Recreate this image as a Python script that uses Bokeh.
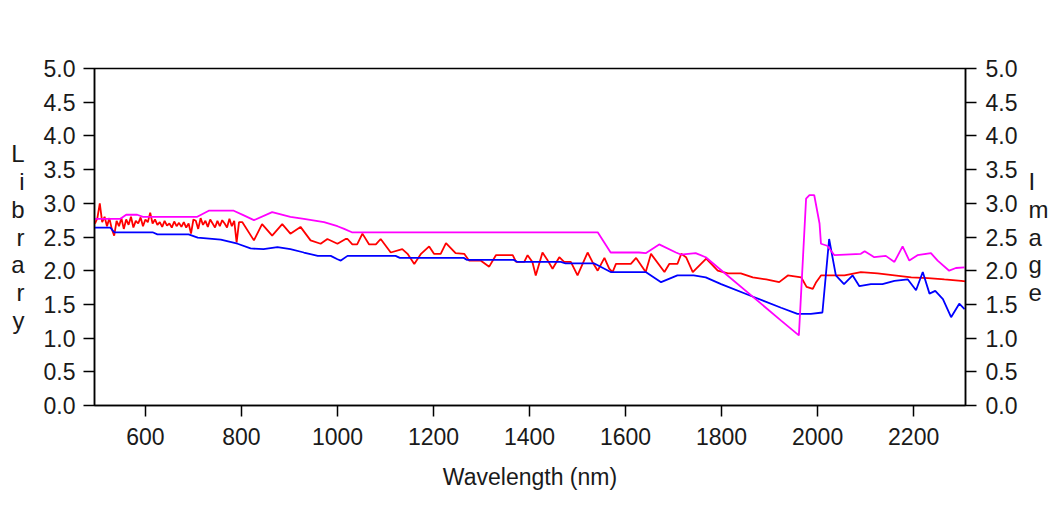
from bokeh.plotting import figure
from bokeh.models import Range1d, LinearAxis, FixedTicker, NumeralTickFormatter
from bokeh.embed import file_html
from bokeh.resources import INLINE

# ---- data ----
red_wl = [495, 500, 505, 510, 515, 520, 525, 530, 535, 540, 545, 550, 555, 560, 565,
          570, 575, 580, 585, 590, 595, 600, 605, 610, 615, 620, 625, 630, 635, 640,
          645, 650, 655, 660, 665, 670, 675, 680, 685, 690, 695, 700, 705, 710, 715,
          720, 725, 730, 735, 740, 745, 750, 755, 760, 765, 770, 775, 780, 785, 790,
          795, 802, 826, 843, 864, 885, 902, 923, 944, 965, 979, 1000, 1017, 1021,
          1031, 1041, 1052, 1066, 1080, 1090, 1111, 1135, 1146, 1160, 1174, 1191,
          1201, 1215, 1226, 1246, 1264, 1274, 1298, 1316, 1330, 1365, 1372, 1389,
          1396, 1406, 1413, 1427, 1438, 1448, 1462, 1472, 1486, 1500, 1521, 1531,
          1542, 1556, 1566, 1573, 1580, 1611, 1622, 1642, 1653, 1681, 1691, 1708,
          1716, 1726, 1740, 1768, 1792, 1813, 1840, 1865, 1893, 1920, 1938, 1966,
          1977, 1990, 1997, 2007, 2056, 2090, 2125, 2160, 2195, 2230, 2264, 2299, 2308]
red_val = [2.70, 2.78, 3.00, 2.72, 2.80, 2.66, 2.78, 2.62, 2.52, 2.74, 2.66, 2.78, 2.62,
           2.76, 2.68, 2.80, 2.64, 2.74, 2.70, 2.79, 2.66, 2.76, 2.72, 2.86, 2.70, 2.76,
           2.68, 2.72, 2.65, 2.74, 2.67, 2.70, 2.64, 2.73, 2.66, 2.71, 2.65, 2.72, 2.64,
           2.70, 2.55, 2.76, 2.74, 2.62, 2.78, 2.68, 2.74, 2.65, 2.76, 2.70, 2.64, 2.74,
           2.66, 2.75, 2.70, 2.64, 2.77, 2.66, 2.74, 2.42, 2.72, 2.72, 2.45, 2.69, 2.52,
           2.69, 2.55, 2.65, 2.45, 2.40, 2.47, 2.40, 2.47, 2.47, 2.39, 2.39, 2.55, 2.39,
           2.39, 2.47, 2.27, 2.32, 2.25, 2.10, 2.25, 2.36, 2.25, 2.25, 2.41, 2.26, 2.25,
           2.15, 2.15, 2.06, 2.23, 2.23, 2.13, 2.13, 2.23, 2.13, 1.93, 2.27, 2.15, 2.03,
           2.20, 2.13, 2.13, 1.93, 2.27, 2.13, 2.00, 2.19, 2.03, 1.98, 2.10, 2.10, 2.19,
           1.98, 2.25, 1.98, 2.10, 2.10, 2.25, 2.20, 1.98, 2.18, 2.00, 1.96, 1.96, 1.90,
           1.87, 1.83, 1.93, 1.90, 1.76, 1.73, 1.83, 1.93, 1.93, 1.98, 1.96, 1.93, 1.90,
           1.89, 1.87, 1.85, 1.84]

blue_wl = [494, 527, 535, 615, 625, 690, 709, 757, 792, 819, 846, 875, 902, 930, 959,
           986, 1000, 1007, 1021, 1121, 1130, 1263, 1270, 1367, 1375, 1465, 1475, 1534,
           1569, 1642, 1674, 1708, 1742, 1767, 1799, 1867, 1924, 1958, 1986, 2010, 2024,
           2038, 2055, 2073, 2087, 2111, 2135, 2160, 2188, 2205, 2219, 2233, 2245, 2261,
           2278, 2295, 2306]
blue_val = [2.64, 2.64, 2.57, 2.57, 2.54, 2.54, 2.49, 2.46, 2.40, 2.33, 2.32, 2.35, 2.32,
            2.27, 2.22, 2.22, 2.17, 2.15, 2.22, 2.22, 2.19, 2.19, 2.16, 2.16, 2.13, 2.13,
            2.11, 2.11, 1.98, 1.98, 1.83, 1.93, 1.93, 1.90, 1.80, 1.61, 1.45, 1.36, 1.36,
            1.38, 2.47, 1.93, 1.80, 1.93, 1.77, 1.80, 1.80, 1.85, 1.87, 1.71, 1.98, 1.66,
            1.70, 1.58, 1.31, 1.51, 1.43]

magenta_wl = [494, 548, 560, 583, 595, 708, 732, 784, 805, 826, 864, 902, 930, 972, 1000,
              1014, 1030, 1542, 1569, 1628, 1642, 1670, 1705, 1715, 1746, 1767, 1924, 1961,
              1976, 1983, 1993, 2004, 2007, 2020, 2035, 2090, 2098, 2118, 2142, 2160, 2177,
              2191, 2208, 2236, 2250, 2274, 2288, 2306]
magenta_val = [2.77, 2.77, 2.83, 2.83, 2.80, 2.80, 2.89, 2.89, 2.82, 2.75, 2.87, 2.80, 2.77,
               2.72, 2.66, 2.62, 2.57, 2.57, 2.27, 2.27, 2.26, 2.39, 2.27, 2.24, 2.26, 2.20,
               1.26, 1.04, 3.07, 3.12, 3.12, 2.70, 2.40, 2.37, 2.23, 2.25, 2.29, 2.20, 2.22,
               2.13, 2.36, 2.15, 2.23, 2.26, 2.15, 2.00, 2.04, 2.05]

x_ticks = [600, 800, 1000, 1200, 1400, 1600, 1800, 2000, 2200]
y_ticks = [0.0, 0.5, 1.0, 1.5, 2.0, 2.5, 3.0, 3.5, 4.0, 4.5, 5.0]
x_title = "Wavelength (nm)"
left_title = "Library"
right_title = "Image"

FONT = "Liberation Sans"
TXT = "#1a1a1a"

p = figure(width=1052, height=501, output_backend="svg", toolbar_location=None,
           x_range=Range1d(494, 2308), y_range=Range1d(0, 5),
           min_border_left=94, min_border_right=87, min_border_top=68,
           min_border_bottom=96, background_fill_color="white",
           border_fill_color="white")
p.grid.visible = False
p.outline_line_color = "black"
p.outline_line_width = 1.5
p.outline_line_alpha = 1.0

right = LinearAxis()
p.add_layout(right, "right")

for ax in [p.xaxis[0], p.yaxis[0], right]:
    ax.axis_line_color = "black"
    ax.axis_line_width = 1.5
    ax.major_tick_line_color = "black"
    ax.major_tick_line_width = 1.5
    ax.major_tick_in = 0
    ax.major_tick_out = 11
    ax.minor_tick_line_color = None
    ax.major_label_text_font = FONT
    ax.major_label_text_font_size = "23px"
    ax.major_label_text_color = TXT
    ax.major_label_standoff = 8
    ax.axis_label_text_font = FONT
    ax.axis_label_text_font_style = "normal"
    ax.axis_label_text_color = TXT

p.xaxis.major_label_standoff = 11
right.major_label_standoff = 9
p.xaxis.ticker = FixedTicker(ticks=x_ticks, minor_ticks=[])
p.yaxis.ticker = FixedTicker(ticks=y_ticks, minor_ticks=[])
right.ticker = FixedTicker(ticks=y_ticks, minor_ticks=[])
p.yaxis.formatter = NumeralTickFormatter(format="0.0")
right.formatter = NumeralTickFormatter(format="0.0")

p.xaxis.axis_label = x_title
p.xaxis.axis_label_text_font_size = "23px"
p.xaxis.axis_label_standoff = 16

# stacked-letter titles on the two value axes
for ax, title, stand in [(p.yaxis[0], left_title, 16), (right, right_title, 8)]:
    ax.axis_label = "\n".join(title)
    ax.axis_label_orientation = "horizontal"
    ax.axis_label_text_font_size = "24px"
    ax.axis_label_text_line_height = 1.03
    ax.axis_label_text_align = "center"
    ax.axis_label_standoff = stand

p.line(red_wl, red_val, line_color="#FF0000", line_width=1.8)
p.line(blue_wl, blue_val, line_color="#0000FF", line_width=1.8)
p.line(magenta_wl, magenta_val, line_color="#FF00FF", line_width=1.8)

open("out.html", "w").write(file_html(p, INLINE))
